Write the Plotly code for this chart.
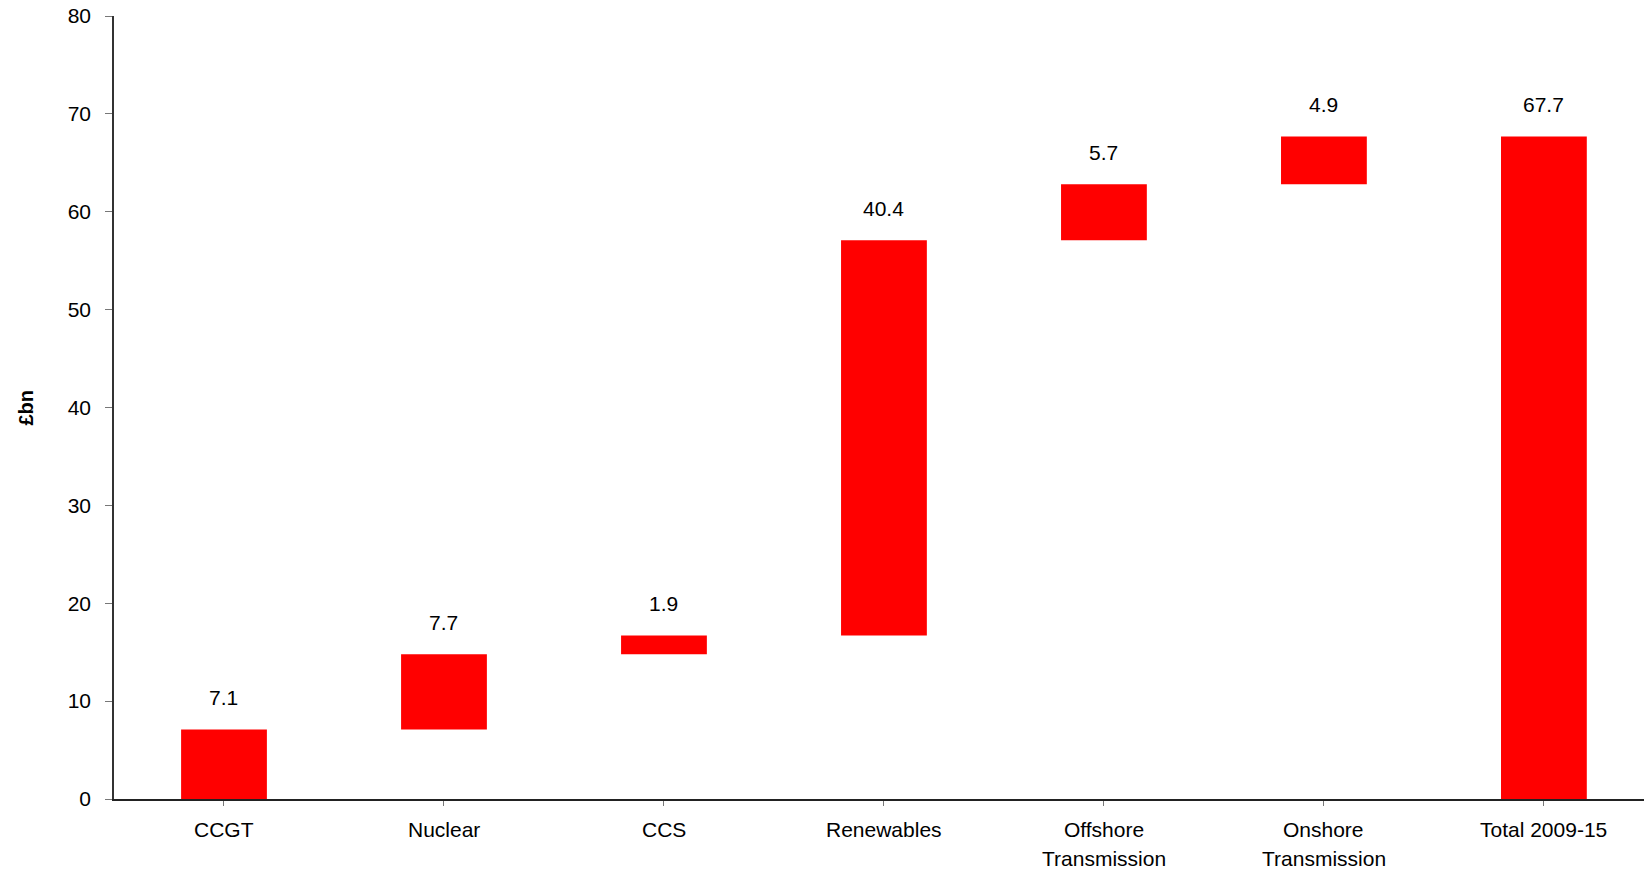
import numpy as np
import plotly.graph_objects as go

categories = ["CCGT", "Nuclear", "CCS", "Renewables", "Offshore<br>Transmission",
              "Onshore<br>Transmission", "Total 2009-15"]
values = [7.1, 7.7, 1.9, 40.4, 5.7, 4.9, 67.7]
measures = ["relative"] * 6 + ["total"]
labels = ["7.1", "7.7", "1.9", "40.4", "5.7", "4.9", "67.7"]

tops = list(np.cumsum(values[:6])) + [values[6]]

RED = "#FF0000"
FONT = "Liberation Sans, Arial, sans-serif"

fig = go.Figure()
fig.add_trace(go.Waterfall(
    x=list(range(len(categories))),
    y=values,
    measure=measures,
    width=0.39,
    connector=dict(visible=False),
    increasing=dict(marker=dict(color=RED, line=dict(width=0))),
    decreasing=dict(marker=dict(color=RED, line=dict(width=0))),
    totals=dict(marker=dict(color=RED, line=dict(width=0))),
    hoverinfo="skip",
))

annotations = []
for i, (t, lab) in enumerate(zip(tops, labels)):
    annotations.append(dict(x=i, y=t, xref="x", yref="y", text=lab, showarrow=False,
                            yanchor="middle", yshift=32,
                            font=dict(family=FONT, size=21, color="black")))

# category labels (two-line labels need wider line spacing)
for i, c in enumerate(categories):
    for j, line in enumerate(c.split("<br>")):
        annotations.append(dict(x=i, y=0, xref="x", yref="y", text=line, showarrow=False,
                                yanchor="middle", yshift=-(30 + 29 * j),
                                font=dict(family=FONT, size=21, color="black")))

annotations.append(dict(x=(25 - 114) / 1530, y=0.5, xref="paper", yref="paper",
                        text="<b>£bn</b>", textangle=-90, showarrow=False,
                        xanchor="center", yanchor="middle",
                        font=dict(family=FONT, size=20, color="black")))

fig.update_layout(
    width=1644, height=871,
    margin=dict(l=114, r=0, t=16, b=72),
    paper_bgcolor="white", plot_bgcolor="white",
    showlegend=False,
    font=dict(family=FONT, size=21, color="black"),
    annotations=annotations,
    xaxis=dict(
        range=[-0.5, 6.455],
        tickmode="array", tickvals=list(range(len(categories))), ticktext=[""] * len(categories),
        tickson="boundaries", ticks="outside", ticklen=5, tickcolor="#777",
        showline=True, linecolor="#222", linewidth=1.5,
        showgrid=False, zeroline=False, fixedrange=True,
    ),
    yaxis=dict(
        range=[0, 80], dtick=10, ticks="outside", ticklen=7, tickcolor="#777",
        showline=True, linecolor="#333", linewidth=1.5,
        showgrid=False, zeroline=False,
        tickfont=dict(family=FONT, size=21, color="black"),
        ticklabelstandoff=10,
    ),
)

fig.write_html("out.html")
